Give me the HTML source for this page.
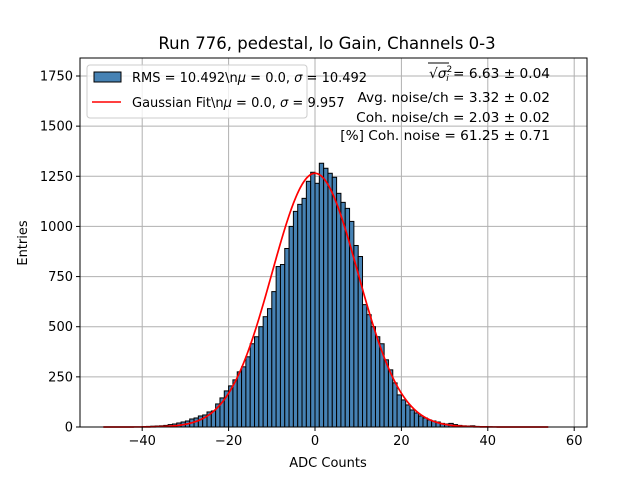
<!DOCTYPE html>
<html><head><meta charset="utf-8"><style>
body{margin:0;background:#fff}
svg text{font-family:"DejaVu Sans","Liberation Sans",sans-serif;fill:#000}
</style></head><body>
<svg id="chart" width="640" height="480" xmlns="http://www.w3.org/2000/svg"></svg>
<script>
const binStart = -49;
const counts = [0,0,0,0,0,0,0,0,0,2,3,4,5,6,8,12,15,20,25,30,40,45,55,60,75,80,115,145,180,205,235,275,300,350,415,450,500,550,590,675,800,810,890,1000,1075,1110,1140,1225,1270,1215,1315,1290,1265,1245,1165,1120,1090,1025,905,850,610,560,500,450,415,335,285,220,160,135,110,85,70,55,45,35,30,25,18,15,18,12,8,6,5,6,3,2,2,1,0,0,0,0,0,0,0,0,0,0,0,0,0,0];
const fitAmp = [1265];
const fitMu = [0.0];
const fitSigma = [9.957];
const fitRange = [-49, 54];
const xTicks = [-40,-20,0,20,40,60];
const yTicks = [0,250,500,750,1000,1250,1500,1750];

const L=80,R=587,T=58,B=427;
const xs = v => 315 + v*4.32;
const ys = v => B - v*(351/1750);
const svg = document.getElementById('chart');
const NS='http://www.w3.org/2000/svg';
function mk(tag, attrs, parent){const e=document.createElementNS(NS,tag);for(const k in attrs)e.setAttribute(k,attrs[k]);(parent||svg).appendChild(e);return e;}

let t=mk('text',{x:327,y:49,'text-anchor':'middle','font-size':16.5});
t.textContent='Run 776, pedestal, lo Gain, Channels 0-3';



const grid=mk('g',{stroke:'#b0b0b0','stroke-width':1});


xTicks.forEach(v=>{const x=xs(v);if(x>L&&x<R)mk('line',{x1:x,x2:x,y1:T,y2:B},grid);});
yTicks.forEach(v=>{const y=ys(v);mk('line',{x1:L,x2:R,y1:y,y2:y},grid);});

const bars=mk('g',{fill:'#4682b4',stroke:'#000','stroke-width':1});


counts.forEach((c,i)=>{
  if(c<=0)return;
  const x0=xs(binStart+i),x1=xs(binStart+i+1);
  const r=mk('rect',{x:x0,y:ys(c),width:x1-x0,height:B-ys(c)},bars);
  
  
});

let d='';
for(let k=0;k<=400;k++){
  const v=fitRange[0]+(fitRange[1]-fitRange[0])*k/400;
  const y=fitAmp[0]*Math.exp(-0.5*Math.pow((v-fitMu[0])/fitSigma[0],2));
  d+=(k?'L':'M')+xs(v).toFixed(2)+','+ys(y).toFixed(2);
}
const fit=mk('path',{d:d,fill:'none',stroke:'#ff0000','stroke-width':1.7});



const fr=mk('rect',{x:L,y:T,width:R-L,height:B-T,fill:'none',stroke:'#000','stroke-width':1});



const xax=mk('g',{});


xTicks.forEach(v=>{const x=xs(v);mk('line',{x1:x,x2:x,y1:B,y2:B+4,stroke:'#000'},xax);
  const tx=mk('text',{x:x,y:B+18,'text-anchor':'middle','font-size':13},xax);tx.textContent=(v<0?'\u2212'+(-v):v);});
const yax=mk('g',{});


yTicks.forEach(v=>{const y=ys(v);mk('line',{x1:L-4,x2:L,y1:y,y2:y,stroke:'#000'},yax);
  const ty=mk('text',{x:L-7,y:y+4.5,'text-anchor':'end','font-size':13},yax);ty.textContent=v;});
let xl=mk('text',{x:328,y:467,'text-anchor':'middle','font-size':13});xl.textContent='ADC Counts';


let yl=mk('text',{x:27,y:243,'text-anchor':'middle','font-size':13,transform:'rotate(-90 27 243)'});yl.textContent='Entries';



const lg=mk('g',{});


mk('rect',{x:87,y:65,width:220,height:53,rx:3,fill:'#fff','fill-opacity':0.8,stroke:'#ccc'},lg);
mk('rect',{x:94,y:72,width:27,height:10,fill:'#4682b4',stroke:'#000'},lg);
let l1=mk('text',{x:132,y:82,'font-size':13},lg);l1.innerHTML='RMS = 10.492\\n<tspan font-style="italic">μ</tspan> = 0.0, <tspan font-style="italic">σ</tspan> = 10.492';


mk('line',{x1:92,x2:121,y1:102,y2:102,stroke:'#ff0000','stroke-width':1.5},lg);
let l2=mk('text',{x:132,y:107,'font-size':13},lg);l2.innerHTML='Gaussian Fit\\n<tspan font-style="italic">μ</tspan> = 0.0, <tspan font-style="italic">σ</tspan> = 9.957';



const ann=mk('g',{'font-size':13.7,'text-anchor':'end'});


let a1=mk('text',{x:550,y:78},ann);a1.innerHTML='√<tspan font-style="italic">σ</tspan><tspan font-size="9" dy="-6">2</tspan><tspan font-size="9" font-style="italic" dy="9" dx="-6">i</tspan><tspan dy="-3">  = 6.63 ± 0.04</tspan>';
mk('line',{x1:428,x2:449,y1:63,y2:63,stroke:'#000','stroke-width':1},ann);
let a2=mk('text',{x:550,y:102},ann);a2.textContent='Avg. noise/ch = 3.32 ± 0.02';
let a3=mk('text',{x:550,y:122},ann);a3.textContent='Coh. noise/ch = 2.03 ± 0.02';
let a4=mk('text',{x:550,y:140},ann);a4.textContent='[%] Coh. noise = 61.25 ± 0.71';
</script>
</body></html>
